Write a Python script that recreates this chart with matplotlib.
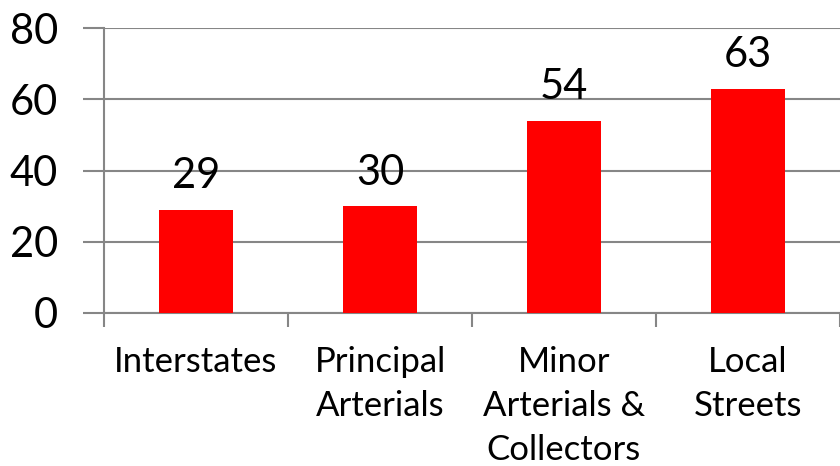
import matplotlib.pyplot as plt

categories = ["Interstates", "Principal\nArterials", "Minor\nArterials &\nCollectors", "Local\nStreets"]
values = [29, 30, 54, 63]
y_ticks = [0, 20, 40, 60, 80]

plt.rcParams['font.family'] = ['Lato', 'DejaVu Sans']

fig = plt.figure(figsize=(8.4, 4.66), dpi=100)
ax = fig.add_axes([104 / 840, 1 - 313 / 466, 736 / 840, 285 / 466])

x = list(range(len(categories)))
ax.bar(x, values, width=0.4, color="#ff0000", zorder=3)
for xi, v in zip(x, values):
    ax.text(xi, v + 4, str(v), ha="center", va="bottom", fontsize=30, color="black")

ax.set_xlim(-0.5, len(categories) - 0.5)
ax.set_ylim(0, 80)
ax.set_yticks(y_ticks)
ax.set_yticklabels([str(t) for t in y_ticks], fontsize=30)
ax.set_xticks(x)
ax.set_xticklabels(categories, fontsize=25, linespacing=1.45, va="top")
ax.set_xticks([i - 0.5 for i in range(len(categories) + 1)], minor=True)

grey = "#868686"
ax.yaxis.grid(True, color=grey, linewidth=1.5, zorder=0)
ax.tick_params(axis="y", length=15, color=grey, width=1.5, pad=18)
ax.tick_params(axis="x", which="major", length=0, pad=24)
ax.tick_params(axis="x", which="minor", length=10, color=grey, width=1.5)
for side in ["top", "right"]:
    ax.spines[side].set_visible(False)
for side in ["left", "bottom"]:
    ax.spines[side].set_color(grey)
    ax.spines[side].set_linewidth(1.5)

fig.savefig("out.png", dpi=100)
